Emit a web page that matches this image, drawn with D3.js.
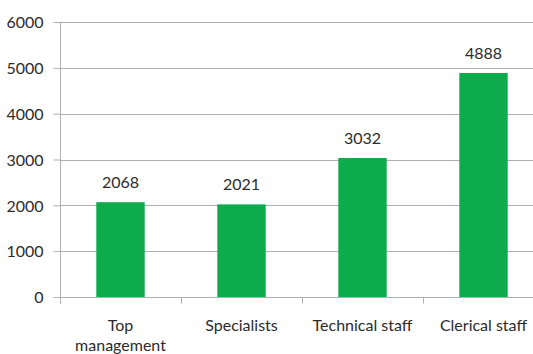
<!DOCTYPE html>
<html>
<head>
<meta charset="utf-8">
<script src="https://cdn.jsdelivr.net/npm/d3@7"></script>
<style>
  html, body { margin: 0; padding: 0; background: #fff; }
  svg { display: block; }
  text { font-family: Lato, "Open Sans", sans-serif; fill: #2b2b2b; }
</style>
</head>
<body>
<svg id="chart" width="533" height="354"></svg>
<script>
// Staff headcount by category
const categories = ["Top management", "Specialists", "Technical staff", "Clerical staff"];
const tickLabels = [["Top", "management"], ["Specialists"], ["Technical staff"], ["Clerical staff"]];
const values = [2068, 2021, 3032, 4888];
const yTicks = [0, 1000, 2000, 3000, 4000, 5000, 6000];

const svg = d3.select("#chart");
const width = 533, height = 354;
const margin = { left: 60, top: 22, bottom: 57 };
const plotRight = 544;            // the last band runs past the visible edge
const gridColor = "#b0b0b0";
const fontSize = "16px";

const x = d3.scaleBand()
  .domain(categories)
  .range([margin.left, plotRight]);

const y = d3.scaleLinear()
  .domain([0, 6000])
  .range([height - margin.bottom, margin.top]);

// Horizontal gridlines
svg.append("g")
  .selectAll("line")
  .data(yTicks.filter(d => d > 0))
  .join("line")
  .attr("x1", margin.left).attr("x2", width)
  .attr("y1", d => Math.round(y(d)) + 0.5).attr("y2", d => Math.round(y(d)) + 0.5)
  .attr("stroke", gridColor).attr("stroke-width", 1);

// Y axis
const yAxis = svg.append("g")
  .attr("transform", `translate(${margin.left + 0.5},0)`)
  .call(d3.axisLeft(y).tickValues(yTicks).tickSize(7).tickPadding(10).tickFormat(d3.format("d")));
yAxis.select(".domain").attr("stroke", gridColor).attr("d", `M-0,${y(6000)}V${y(0) + 7}`);
yAxis.selectAll(".tick line").attr("stroke", gridColor);
yAxis.selectAll(".tick text")
  .style("font-size", fontSize)
  .attr("fill", "#2b2b2b")
  .attr("dy", "0.36em");

// X axis baseline with ticks at band boundaries
const baseY = Math.round(y(0)) + 0.5;
svg.append("line")
  .attr("x1", margin.left).attr("x2", width)
  .attr("y1", baseY).attr("y2", baseY)
  .attr("stroke", gridColor);
svg.append("g")
  .selectAll("line")
  .data(categories)
  .join("line")
  .attr("x1", d => Math.round(x(d)) + 0.5).attr("x2", d => Math.round(x(d)) + 0.5)
  .attr("y1", baseY).attr("y2", baseY + 6)
  .attr("stroke", gridColor);

// Bars
const barW = x.bandwidth() * 0.4;
svg.append("g")
  .selectAll("rect")
  .data(values)
  .join("rect")
  .attr("x", (d, i) => x(categories[i]) + (x.bandwidth() - barW) / 2)
  .attr("width", barW)
  .attr("y", d => y(d))
  .attr("height", d => y(0) - y(d))
  .attr("fill", "#0dab4c");

// Value labels
svg.append("g")
  .selectAll("text")
  .data(values)
  .join("text")
  .attr("x", (d, i) => x(categories[i]) + x.bandwidth() / 2)
  .attr("y", d => y(d) - 14)
  .attr("text-anchor", "middle")
  .style("font-size", fontSize)
  .text(d => d);

// Category labels
const catG = svg.append("g")
  .selectAll("text")
  .data(tickLabels)
  .join("text")
  .attr("x", (d, i) => x(categories[i]) + x.bandwidth() / 2)
  .attr("y", 331)
  .attr("text-anchor", "middle")
  .style("font-size", fontSize);
catG.selectAll("tspan")
  .data(d => d)
  .join("tspan")
  .attr("x", function () { return this.parentNode.getAttribute("x"); })
  .attr("dy", (d, i) => i === 0 ? 0 : 20)
  .text(d => d);
</script>
</body>
</html>
